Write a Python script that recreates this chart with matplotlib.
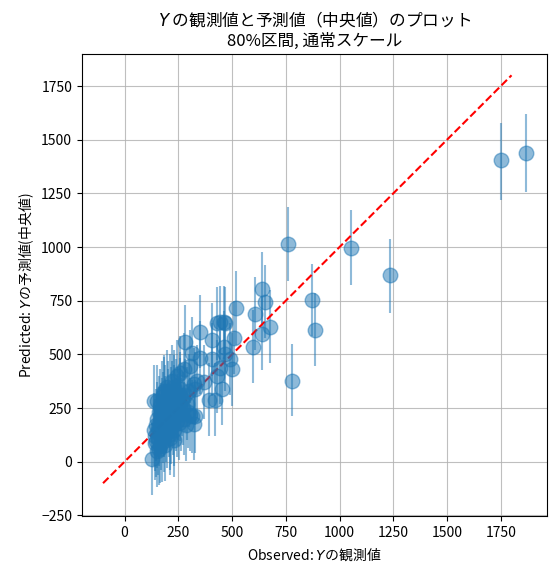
import numpy as np
import matplotlib
matplotlib.use("Agg")
import matplotlib.pyplot as plt

plt.rcParams['font.family'] = ['Noto Sans CJK JP', 'DejaVu Sans']
plt.rcParams['axes.unicode_minus'] = True

observed = [
    1752, 1868, 1236, 1054, 758, 872, 887, 779, 639, 652,
    675, 608, 639, 598, 520, 507, 500, 461, 446, 430,
    469, 407, 353, 283, 461, 314, 353, 407, 469, 492,
    453, 391, 422, 368, 337, 329, 322, 446, 430, 306,
    275, 260, 244, 221, 314, 322, 306, 329, 260, 260,
    229, 182, 151, 139, 128, 144,
    135, 140, 145, 148, 150, 152, 155, 158, 160, 162,
    165, 165, 168, 170, 172, 175, 175, 178, 180, 182,
    185, 185, 188, 190, 192, 195, 196, 198, 200, 202,
    205, 208, 210, 212, 215, 218, 220, 222, 225, 228,
    230, 232, 235, 238, 240, 245, 248, 250, 255, 258,
    262, 265, 270, 275, 280, 285, 290, 295, 300, 210,
    160, 150, 190, 230,
]
pred_med = [
    1404, 1437, 868, 994, 1013, 754, 613, 375, 806, 745,
    627, 690, 594, 535, 717, 578, 430, 649, 649, 645,
    646, 567, 605, 558, 533, 505, 485, 477, 500, 477,
    338, 289, 289, 372, 375, 340, 360, 437, 398, 445,
    430, 414, 398, 375, 211, 176, 218, 211, 312, 265,
    328, 328, 281, 281, 12, 85,
    150, 120, 95, 170, 140, 200, 110, 180, 230, 150,
    75, 260, 195, 130, 300, 220, 90, 160, 250, 190,
    120, 320, 230, 280, 170, 210, 350, 140, 260, 300,
    190, 230, 330, 110, 270, 160, 300, 240, 200, 350,
    280, 150, 260, 220, 310, 190, 270, 240, 180, 340,
    220, 290, 250, 200, 310, 170, 270, 230, 330, 130,
    60, 50, 80, 100,
]
pred_lo = [
    1221, 1255, 691, 821, 840, 585, 445, 215, 640, 575,
    460, 520, 425, 365, 545, 410, 260, 480, 478, 475,
    476, 400, 435, 390, 365, 335, 315, 307, 330, 310,
    170, 120, 120, 200, 205, 170, 190, 267, 228, 275,
    260, 245, 228, 205, 42, 8, 48, 42, 142, 95,
    158, 158, 110, 112, -155, -85,
    -20, -45, -70, 2, -28, 32, -60, 12, 62, -18,
    -100, 92, 25, -38, 130, 52, -93, -8, 82, 20,
    -50, 150, 60, 112, 0, 42, 180, -30, 92, 130,
    20, 62, 160, -60, 100, -10, 130, 72, 30, 180,
    112, -20, 92, 52, 140, 22, 100, 72, 10, 170,
    52, 120, 80, 32, 140, 5, 100, 62, 160, -40,
    -110, -120, -90, -70,
]
pred_hi = [
    1578, 1620, 1036, 1174, 1187, 923, 785, 547, 978, 915,
    800, 860, 765, 705, 889, 750, 600, 820, 818, 815,
    816, 738, 775, 728, 703, 675, 655, 647, 670, 648,
    508, 460, 460, 542, 545, 510, 530, 607, 568, 615,
    600, 584, 568, 545, 381, 346, 388, 381, 482, 435,
    498, 498, 451, 450, 180, 255,
    320, 290, 262, 340, 310, 370, 280, 350, 400, 320,
    245, 430, 365, 300, 470, 390, 260, 330, 420, 360,
    290, 490, 400, 450, 340, 380, 520, 310, 430, 470,
    360, 400, 500, 280, 440, 330, 470, 410, 370, 520,
    450, 320, 430, 390, 480, 360, 440, 410, 350, 510,
    390, 460, 420, 370, 480, 340, 440, 400, 500, 300,
    230, 220, 250, 270,
]

observed = np.array(observed)
pred_med = np.array(pred_med)
yerr = np.vstack([pred_med - np.array(pred_lo), np.array(pred_hi) - pred_med])

fig = plt.figure(figsize=(5.57, 5.73), dpi=100)
ax = fig.add_axes([0.147, 0.0995, 0.8356, 0.8057])

ax.errorbar(observed, pred_med, yerr=yerr, fmt='o', color='tab:blue',
            ms=10.5, elinewidth=1.5, alpha=0.5)
ax.plot([-100, 1800], [-100, 1800], 'r--', lw=1.5)

ax.grid(True, color='#b0b0b0', lw=0.8, alpha=0.8)
ax.set_title('$Y$ の観測値と予測値（中央値）のプロット\n80%区間, 通常スケール', fontsize=12)
ax.set_xlabel('Observed: $Y$の観測値')
ax.set_ylabel('Predicted: $Y$の予測値(中央値)')

fig.savefig('out.png', dpi=100)
